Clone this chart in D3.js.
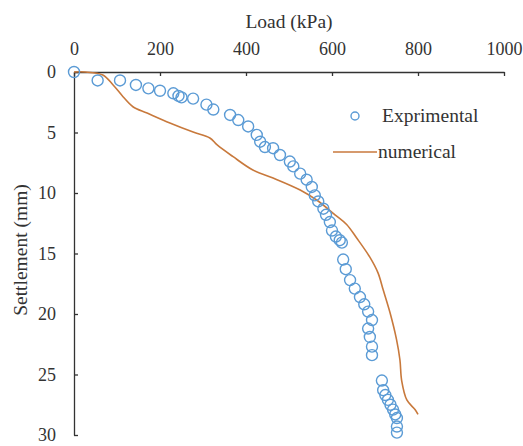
<!DOCTYPE html>
<html>
<head>
<meta charset="utf-8">
<script src="https://cdn.jsdelivr.net/npm/d3@7"></script>
<style>
  body { margin: 0; background: #fff; }
  svg text { font-family: "Liberation Serif", "Times New Roman", Times, serif; fill: #333; }
</style>
</head>
<body>
<svg id="chart" width="523" height="446"></svg>
<script>
// experimental points (load kPa, settlement mm)
const expLoad = [0, 55, 107, 144, 173, 200, 231, 243, 250, 277, 308, 324, 363, 382, 405, 425, 433, 444, 463, 479,
  502, 510, 526, 541, 553, 560, 568, 580, 586, 595, 600, 609, 618, 623, 626, 632, 642, 653, 665, 675, 684, 693,
  684, 688, 693, 693, 716, 719, 724, 730, 736, 742, 747, 751, 751, 751]
const expSettle = [0, 0.7, 0.7, 1.07, 1.35, 1.55, 1.76, 1.98, 2.1, 2.2, 2.7, 3.1, 3.55, 3.97, 4.5, 5.2, 5.76, 6.2, 6.3, 6.86,
  7.4, 7.8, 8.4, 8.9, 9.5, 10.2, 10.7, 11.3, 11.8, 12.4, 13.1, 13.6, 13.9, 14.1, 15.5, 16.3, 17.2, 17.9, 18.6, 19.2, 19.8, 20.5,
  21.2, 21.9, 22.7, 23.4, 25.5, 26.3, 26.7, 27.1, 27.5, 27.9, 28.3, 28.6, 29.3, 29.8]

// numerical curve
const numLoad = [0, 26, 67, 91, 114, 137, 170, 223, 277, 316, 333, 370, 416, 463, 526, 565, 607, 634, 657, 688,
  707, 719, 735, 750, 758, 762, 774, 793, 800]
const numSettle = [0, 0, 0.25, 1.07, 2.04, 2.87, 3.39, 4.21, 4.96, 5.45, 6.03, 7.0, 8.1, 8.76, 9.75, 10.6, 11.8, 12.6, 13.7, 15.3,
  16.6, 18.0, 19.9, 22.1, 23.8, 25.5, 27.1, 27.9, 28.3]

const xTicks = [0, 200, 400, 600, 800, 1000]
const yTicks = [0, 5, 10, 15, 20, 25, 30]
const seriesNames = ["Exprimental", "numerical"]

const svg = d3.select("#chart")

const x = d3.scaleLinear().domain([0, 1000]).range([74, 504])
const y = d3.scaleLinear().domain([0, 30]).range([72, 435])

const blue = "#5b9bd5"
const orange = "#c8793c"
const serif = '"Liberation Serif", "Times New Roman", Times, serif'

// axes
const xAxis = d3.axisTop(x).tickValues(xTicks).tickFormat(d3.format("d"))
  .tickSizeInner(-4).tickSizeOuter(0).tickPadding(17)
const yAxis = d3.axisLeft(y).tickValues(yTicks).tickFormat(d3.format("d"))
  .tickSizeInner(-4).tickSizeOuter(0).tickPadding(18)

const gx = svg.append("g").attr("transform", `translate(0,${y(0)})`).call(xAxis)
const gy = svg.append("g").attr("transform", `translate(${x(0)},0)`).call(yAxis)

for (const g of [gx, gy]) {
  g.attr("font-family", serif)
  g.selectAll("path, line").attr("stroke", "#333").attr("stroke-width", 1.3)
  g.selectAll("text").attr("fill", "#333").style("font-size", "18px").style("font-family", serif)
}

// titles
svg.append("text")
  .attr("x", 289).attr("y", 28)
  .attr("text-anchor", "middle")
  .style("font-size", "19.5px")
  .text("Load (kPa)")

svg.append("text")
  .attr("transform", "translate(27,250) rotate(-90)")
  .attr("text-anchor", "middle")
  .style("font-size", "19.5px")
  .text("Settlement (mm)")

// numerical line
const line = d3.line()
  .x((d, i) => x(numLoad[i]))
  .y((d, i) => y(numSettle[i]))
  .curve(d3.curveCatmullRom)

svg.append("path")
  .datum(numLoad)
  .attr("d", line)
  .attr("fill", "none")
  .attr("stroke", orange)
  .attr("stroke-width", 1.6)

// experimental circles
svg.append("g")
  .selectAll("circle")
  .data(expLoad)
  .enter()
  .append("circle")
  .attr("cx", d => x(d))
  .attr("cy", (d, i) => y(expSettle[i]))
  .attr("r", 5.5)
  .attr("fill", "none")
  .attr("stroke", blue)
  .attr("stroke-width", 1.4)

// legend
const lg = svg.append("g")
lg.append("circle").attr("cx", 355).attr("cy", 116).attr("r", 4).attr("fill", "none")
  .attr("stroke", blue).attr("stroke-width", 1.4)
lg.append("text").attr("x", 382).attr("y", 122).style("font-size", "19.5px").text(seriesNames[0])
lg.append("line").attr("x1", 333).attr("x2", 377).attr("y1", 152).attr("y2", 152)
  .attr("stroke", orange).attr("stroke-width", 1.6)
lg.append("text").attr("x", 378).attr("y", 158).style("font-size", "19.5px").text(seriesNames[1])
</script>
</body>
</html>
